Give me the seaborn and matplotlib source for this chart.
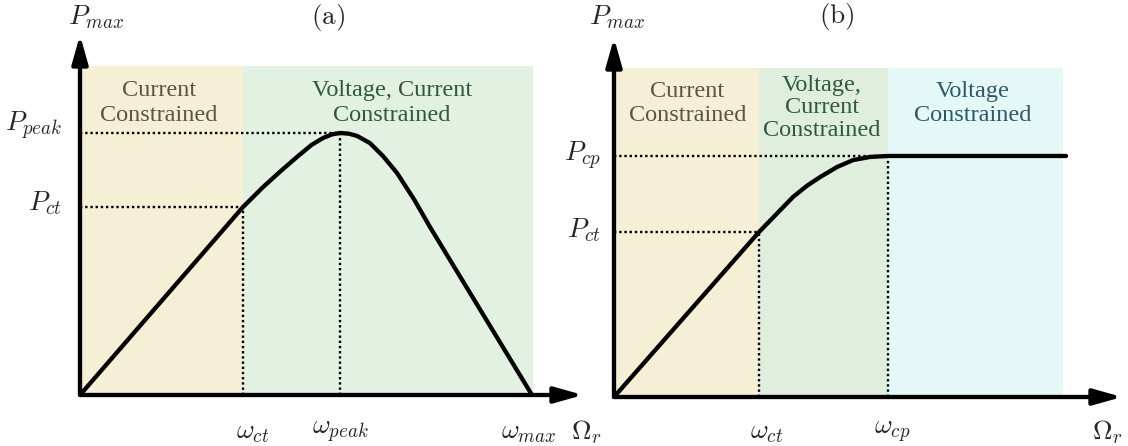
import matplotlib
matplotlib.use("Agg")
import matplotlib.pyplot as plt
import seaborn as sns
import pandas as pd

sns.set_theme(style="white")
plt.rcParams["mathtext.fontset"] = "cm"
plt.rcParams["font.family"] = ["Liberation Serif", "DejaVu Serif"]

# ---- panel (a): current constrained, then voltage + current constrained ----
a_speed = [0.0, 1.0, 1.123, 1.23, 1.331, 1.42, 1.491, 1.545, 1.595, 1.65, 1.70, 1.779, 1.86, 1.945, 2.05, 2.147, 2.46, 2.773]
a_power = [0.0, 1.0, 1.106, 1.19, 1.266, 1.33, 1.367, 1.386, 1.394, 1.39, 1.378, 1.340, 1.27, 1.181, 1.04, 0.894, 0.447, 0.0]
a_marks = {"w_ct": 1.0, "w_peak": 1.595, "w_max": 2.773, "P_ct": 1.0, "P_peak": 1.394}
a_regions = [0.0, 1.0, 2.78]          # region boundaries on the speed axis
a_region_top = 1.75
a_region_names = ["Current\nConstrained", "Voltage, Current\nConstrained"]
a_xtick_labels = [r"$\omega_{ct}$", r"$\omega_{peak}$", r"$\omega_{max}$"]
a_ytick_labels = [r"$P_{ct}$", r"$P_{peak}$"]

# ---- panel (b): current, voltage + current, and voltage constrained ----
b_speed = [0.0, 1.0, 1.234, 1.33, 1.421, 1.538, 1.648, 1.766, 1.89, 3.117]
b_power = [0.0, 1.0, 1.212, 1.28, 1.333, 1.394, 1.436, 1.455, 1.461, 1.461]
b_marks = {"w_ct": 1.0, "w_cp": 1.89, "P_ct": 1.0, "P_cp": 1.461}
b_regions = [0.0, 1.0, 1.89, 3.097]
b_region_top = 1.994
b_region_names = ["Current\nConstrained", "Voltage,\nCurrent\nConstrained", "Voltage\nConstrained"]
b_xtick_labels = [r"$\omega_{ct}$", r"$\omega_{cp}$"]
b_ytick_labels = [r"$P_{ct}$", r"$P_{cp}$"]

W, H = 1128, 446
fig = plt.figure(figsize=(W / 100, H / 100), dpi=100)


def px_axes(x0, y0, x1, y1):
    """Axes whose data origin sits at pixel (x0, y0) and upper corner at (x1, y1)."""
    return fig.add_axes([x0 / W, (H - y0) / H, (x1 - x0) / W, (y0 - y1) / H])


LW = 3.1
MATH = 19.5
REG = 17.5
dot = dict(color="black", lw=1.7, linestyle=(0, (1.0, 1.2)), zorder=2)


def draw_frame(ax, xmax, ymax):
    ax.set_xlim(0, xmax)
    ax.set_ylim(0, ymax)
    ax.axis("off")
    arrow = dict(arrowstyle="-|>,head_length=0.85,head_width=0.24", lw=LW,
                 color="black", shrinkA=0, shrinkB=0, mutation_scale=20)
    ax.annotate("", xy=(xmax, 0), xytext=(0, 0), arrowprops=arrow,
                annotation_clip=False, zorder=5)
    ax.annotate("", xy=(0, ymax), xytext=(0, 0), arrowprops=arrow,
                annotation_clip=False, zorder=5)


# panel (a)
axa = px_axes(80, 395, 583, 35)
draw_frame(axa, 3.086, 1.915)
reg_colors_a = ["#f5efd6", "#e2f1e2"]
for i, c in enumerate(reg_colors_a):
    axa.fill_between([a_regions[i], a_regions[i + 1]], 0, a_region_top,
                     color=c, lw=0, zorder=0)
df_a = pd.DataFrame({"speed": a_speed, "power": a_power})
sns.lineplot(data=df_a, x="speed", y="power", ax=axa, color="black", lw=LW,
             sort=False, zorder=4, solid_capstyle="round", solid_joinstyle="round")
axa.axis("off")
axa.plot([0, a_marks["w_peak"]], [a_marks["P_peak"]] * 2, **dot)
axa.plot([0, a_marks["w_ct"]], [a_marks["P_ct"]] * 2, **dot)
axa.plot([a_marks["w_ct"]] * 2, [0, a_marks["P_ct"]], **dot)
axa.plot([a_marks["w_peak"]] * 2, [0, a_marks["P_peak"]], **dot)

text_cols_a = ["#5b5641", "#2f5a3b"]
axa.text(0.485, 1.553, a_region_names[0], ha="center", va="center", fontsize=REG,
         color=text_cols_a[0], linespacing=1.22)
axa.text(1.914, 1.553, a_region_names[1], ha="center", va="center", fontsize=REG,
         color=text_cols_a[1], linespacing=1.22)

for xv, lab, dx in zip([a_marks["w_ct"], a_marks["w_peak"], a_marks["w_max"]],
                       a_xtick_labels, [0.06, 0.0, -0.02]):
    axa.text(xv + dx, -0.2, lab, ha="center", va="center", fontsize=MATH)
axa.text(3.11, -0.2, r"$\Omega_r$", ha="center", va="center", fontsize=MATH)
for yv, lab, dy in zip([a_marks["P_ct"], a_marks["P_peak"]], a_ytick_labels, [4, 7]):
    axa.annotate(lab, xy=(0, yv), xytext=(-18, dy), textcoords="offset pixels",
                 ha="right", va="center", fontsize=MATH)
axa.annotate(r"$P_{max}$", xy=(0, 1.915), xytext=(16, 18), textcoords="offset pixels",
             ha="center", va="center", fontsize=MATH, annotation_clip=False)
axa.annotate(r"$\mathrm{(a)}$", xy=(0, 1.915), xytext=(248, 18), textcoords="offset pixels",
             ha="center", va="center", fontsize=MATH, annotation_clip=False)

# panel (b)
axb = px_axes(614, 397, 1122, 38)
draw_frame(axb, 3.503, 2.176)
reg_colors_b = ["#f5efd6", "#e0eedd", "#e5f8f8"]
for i, c in enumerate(reg_colors_b):
    axb.fill_between([b_regions[i], b_regions[i + 1]], 0, b_region_top,
                     color=c, lw=0, zorder=0)
df_b = pd.DataFrame({"speed": b_speed, "power": b_power})
sns.lineplot(data=df_b, x="speed", y="power", ax=axb, color="black", lw=LW,
             sort=False, zorder=4, solid_capstyle="round", solid_joinstyle="round")
axb.axis("off")
axb.plot([0, b_marks["w_cp"]], [b_marks["P_cp"]] * 2, **dot)
axb.plot([0, b_marks["w_ct"]], [b_marks["P_ct"]] * 2, **dot)
axb.plot([b_marks["w_ct"]] * 2, [0, b_marks["P_ct"]], **dot)
axb.plot([b_marks["w_cp"]] * 2, [0, b_marks["P_cp"]], **dot)

text_cols_b = ["#5b5641", "#2f5a3b", "#2f5766"]
axb.text(0.505, 1.779, b_region_names[0], ha="center", va="center", fontsize=REG,
         color=text_cols_b[0], linespacing=1.22)
axb.text(1.435, 1.752, b_region_names[1], ha="center", va="center", fontsize=REG,
         color=text_cols_b[1], linespacing=1.12)
axb.text(2.472, 1.779, b_region_names[2], ha="center", va="center", fontsize=REG,
         color=text_cols_b[2], linespacing=1.22)

for xv, lab, dx in zip([b_marks["w_ct"], b_marks["w_cp"]], b_xtick_labels, [0.05, 0.03]):
    axb.text(xv + dx, -0.214, lab, ha="center", va="center", fontsize=MATH)
axb.text(3.40, -0.214, r"$\Omega_r$", ha="center", va="center", fontsize=MATH)
for yv, lab, dy in zip([b_marks["P_ct"], b_marks["P_cp"]], b_ytick_labels, [2, 0]):
    axb.annotate(lab, xy=(0, yv), xytext=(-13, dy), textcoords="offset pixels",
                 ha="right", va="center", fontsize=MATH)
axb.annotate(r"$P_{max}$", xy=(0, 2.176), xytext=(3, 21), textcoords="offset pixels",
             ha="center", va="center", fontsize=MATH, annotation_clip=False)
axb.annotate(r"$\mathrm{(b)}$", xy=(0, 2.176), xytext=(223, 21), textcoords="offset pixels",
             ha="center", va="center", fontsize=MATH, annotation_clip=False)

fig.savefig("out.png", dpi=100, facecolor="white")
